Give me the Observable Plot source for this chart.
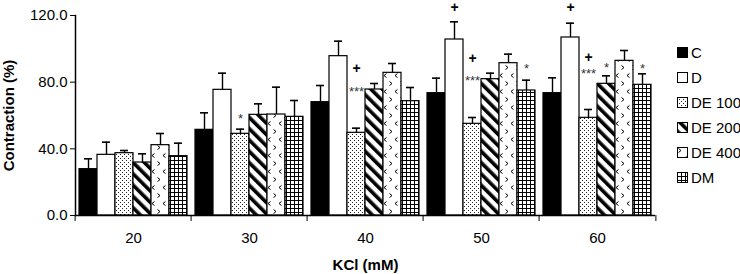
<!DOCTYPE html>
<html>
<head>
<meta charset="utf-8">
<script src="https://cdn.jsdelivr.net/npm/d3@7"></script>
<script src="https://cdn.jsdelivr.net/npm/@observablehq/plot@0.6"></script>
<style>
  html, body { margin: 0; padding: 0; background: white; }
  #wrap { position: relative; width: 740px; height: 274px; overflow: hidden; font-family: 'Liberation Sans', Arial, sans-serif; }
  #legend { position: absolute; left: 677px; top: 40px; }
  .row { height: 25px; display: flex; align-items: center; font-size: 15px; color: black; white-space: nowrap; }
  .row svg { margin-right: 3px; }
  g[aria-label$="axis label"] text { font-weight: bold; }
</style>
</head>
<body>
<svg width="0" height="0" style="position:absolute">
  <defs>
    <pattern id="pDots" width="4" height="4" patternUnits="userSpaceOnUse">
      <rect width="4" height="4" fill="white"/>
      <rect x="0" y="0" width="1" height="1" fill="#222"/>
      <rect x="2" y="2" width="1" height="1" fill="#222"/>
    </pattern>
    <pattern id="pDiag" width="8" height="8" patternUnits="userSpaceOnUse" patternTransform="rotate(-45)">
      <rect width="8" height="8" fill="white"/>
      <rect width="3.6" height="8" fill="black"/>
    </pattern>
    <pattern id="pChev" width="11" height="16" patternUnits="userSpaceOnUse">
      <rect width="11" height="16" fill="white"/>
      <polyline points="1.5,1.5 4,3.5 1.5,5.5" fill="none" stroke="black" stroke-width="1"/>
      <polyline points="9.5,9.5 7,11.5 9.5,13.5" fill="none" stroke="black" stroke-width="1"/>
    </pattern>
    <pattern id="pGrid" width="4" height="4" patternUnits="userSpaceOnUse">
      <rect width="4" height="4" fill="white"/>
      <path d="M0 0.5H4M0.5 0V4" stroke="black" stroke-width="1"/>
    </pattern>
  </defs>
</svg>
<div id="wrap"><div id="legend"></div></div>
<script>
// ---- data ----
const groups = ["20", "30", "40", "50", "60"];
const series = ["C", "D", "DE 100", "DE 200", "DE 400", "DM"];

const meanC     = [27.8, 51.4, 68.0, 73.4, 73.4];
const semC      = [6.2, 10.2, 10.0, 9.0, 9.2];
const meanD     = [36.4, 75.4, 95.6, 105.6, 106.8];
const semD      = [7.6, 10.0, 9.0, 10.6, 8.6];
const meanDE100 = [37.4, 49.0, 49.6, 55.0, 58.6];
const semDE100  = [1.6, 2.8, 2.8, 3.8, 5.0];
const meanDE200 = [31.8, 60.4, 75.6, 81.8, 79.0];
const semDE200  = [5.2, 6.6, 3.6, 3.6, 4.8];
const meanDE400 = [42.2, 60.6, 85.6, 91.4, 92.8];
const semDE400  = [7.0, 16.4, 5.6, 5.4, 6.2];
const meanDM    = [35.6, 59.2, 68.6, 75.0, 78.4];
const semDM     = [7.8, 9.8, 8.2, 6.2, 6.6];

const annGroup  = ["30", "40", "40", "50", "50", "50", "50", "60", "60", "60", "60", "60"];
const annSeries = ["DE 100", "DE 100", "DE 100", "D", "DE 100", "DE 100", "DM", "D", "DE 100", "DE 100", "DE 200", "DM"];
const annText   = ["*", "***", "+", "+", "***", "+", "*", "+", "***", "+", "*", "*"];
const annLevel  = [57.8, 74.2, 88.0, 124.6, 80.6, 94.4, 88.2, 124.6, 85.2, 95.0, 88.6, 88.2];

const yTicks = [0, 40, 80, 120];

// ---- build table ----
const means = [meanC, meanD, meanDE100, meanDE200, meanDE400, meanDM];
const sems  = [semC, semD, semDE100, semDE200, semDE400, semDM];
const rows = [];
series.forEach((s, si) => groups.forEach((g, gi) => {
  rows.push({series: s, group: g, mean: means[si][gi], sem: sems[si][gi]});
}));
const ann = annText.map((t, i) => ({group: annGroup[i], series: annSeries[i], label: t, level: annLevel[i]}));
const stars = ann.filter(d => d.label.includes("*"));
const pluses = ann.filter(d => d.label === "+");

const fills = ["black", "white", "url(#pDots)", "url(#pDiag)", "url(#pChev)", "url(#pGrid)"];

const W = 740, H = 274, ML = 73, MR = 83, MT = 15, MB = 59;
const bw = (W - ML - MR) / groups.length;

const chart = Plot.plot({
  width: W, height: H,
  marginLeft: ML, marginRight: MR, marginTop: MT, marginBottom: MB,
  style: {fontFamily: "'Liberation Sans', Arial, sans-serif", fontSize: "15px", color: "black", background: "white"},
  fx: {domain: groups, padding: 0},
  x: {domain: series, paddingInner: 0, paddingOuter: 0.1, axis: null},
  y: {domain: [0, 120]},
  color: {domain: series, range: fills},
  marks: [
    Plot.barY(rows, {fx: "group", x: "series", y: "mean", fill: "series", stroke: "black", strokeWidth: 1.2, inset: 0}),
    Plot.ruleX(rows, {fx: "group", x: "series", y1: "mean", y2: d => d.mean + d.sem, stroke: "black", strokeWidth: 1.4}),
    Plot.tickY(rows, {fx: "group", x: "series", y: d => d.mean + d.sem, stroke: "black", strokeWidth: 1.6, insetLeft: 5, insetRight: 5}),
    Plot.text(stars, {fx: "group", x: "series", y: "level", text: "label", fontSize: 13, fill: "#333"}),
    Plot.text(pluses, {fx: "group", x: "series", y: "level", text: "label", fontSize: 14, fill: "#000", fontWeight: "bold"}),
    Plot.ruleY([0], {stroke: "black", strokeWidth: 1.5}),
    Plot.frame({anchor: "left", facetAnchor: "left", stroke: "black", strokeWidth: 1.5}),
    Plot.axisY({ticks: yTicks, tickFormat: d => d.toFixed(1), tickSize: 5, tickPadding: 3, label: "Contraction (%)", labelAnchor: "center", labelOffset: 72, labelArrow: false}),
    Plot.axisFx({anchor: "bottom", tickSize: 0, tickPadding: 17, label: "KCl (mM)", labelAnchor: "center", labelOffset: 54, labelArrow: false}),
    Plot.axisFx({anchor: "bottom", tickSize: 6, tickFormat: () => "", label: null, dx: -bw / 2}),
    Plot.axisFx({anchor: "bottom", ticks: ["60"], tickSize: 6, tickFormat: () => "", label: null, dx: bw / 2})
  ]
});
const wrap = document.getElementById("wrap");
wrap.insertBefore(chart, wrap.firstChild);

const legend = document.getElementById("legend");
series.forEach((s, i) => {
  const row = document.createElement("div");
  row.className = "row";
  row.innerHTML = `<svg width="11" height="11"><rect x="0.5" y="0.5" width="10" height="10" fill="${fills[i]}" stroke="black" stroke-width="1"/></svg><span>${s}</span>`;
  legend.appendChild(row);
});
</script>
</body>
</html>
